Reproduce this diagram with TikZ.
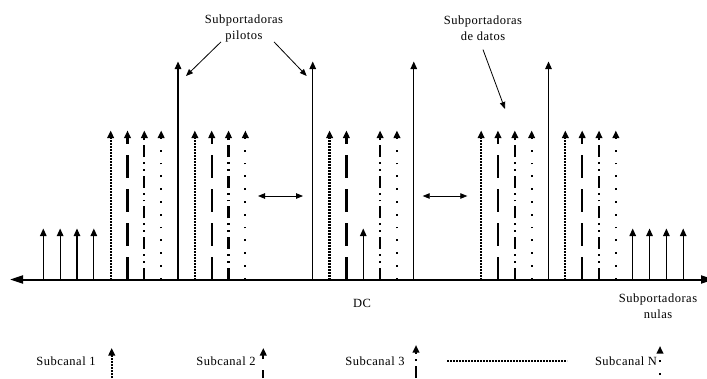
\documentclass[tikz,border=0pt]{standalone}
\usepackage{fontspec}
\setmainfont{Liberation Serif}[LetterSpace=4]
\usetikzlibrary{positioning, arrows.meta}

\begin{document}
\begin{tikzpicture}[
		x=1pt, y=-1pt,
		>={Triangle[length=7.5pt, width=6.5pt]},
		lbl/.style={inner sep=0pt, align=center, font=\fontsize{12.5}{16}\selectfont},
		axis/.style={line width=2pt, {Triangle[length=13pt, width=8pt]}-{Triangle[length=13pt, width=8pt]}},
		pointer/.style={->, line width=0.8pt, >={Triangle[length=7pt, width=5.5pt]}},
		pilot/.style={->, line width=1.2pt},
		nula/.style={->, line width=1.2pt},
		sub1/.style={->, line width=2.2pt, dash pattern=on 1.8pt off 1.2pt},
		sub2/.style={->, line width=2.2pt, dash pattern=on 23pt off 11pt},
		sub3/.style={->, line width=2.2pt, dash pattern=on 12pt off 5pt on 1.8pt off 5pt on 1.8pt off 5pt},
		subn/.style={->, line width=2.2pt, dash pattern=on 1.8pt off 11pt},
	]
	\useasboundingbox (0,0) rectangle (707,378);

	% frequency axis
	\coordinate (axl) at (10,279.5);
	\coordinate (axr) at (714,279.5);
	\draw[axis] (axl) -- (axr);

	% subcarriers
	\foreach \i in {0,1,2,3,19,35,36,37,38}
		\draw[nula] ({43.3+16.84*\i},279.5) -- ++(0,-51);
	\foreach \i in {8,16,22,30}
		\draw[pilot] ({43.3+16.84*\i},279.5) -- ++(0,-218);
	\foreach \i in {4,9,17,26,31}
		\draw[sub1] ({43.3+16.84*\i},279.5) -- ++(0,-149);
	\foreach \i in {5,10,18,27,32}
		\draw[sub2] ({43.3+16.84*\i},279.5) -- ++(0,-149);
	\foreach \i in {6,11,20,28,33}
		\draw[sub3] ({43.3+16.84*\i},279.5) -- ++(0,-149);
	\foreach \i in {7,12,21,29,34}
		\draw[subn] ({43.3+16.84*\i},279.5) -- ++(0,-149);

	% spacing between groups
	\coordinate (g1l) at (258,196);
	\coordinate (g1r) at (303,196);
	\coordinate (g2l) at (422.7,196);
	\coordinate (g2r) at (467.3,196);
	\draw[pointer, <->] (g1l) -- (g1r);
	\draw[pointer, <->] (g2l) -- (g2r);

	% labels
	\node[lbl] (pil) at (244,28) {Subportadoras\\pilotos};
	\node[lbl] (dat) at (483,28) {Subportadoras\\de datos};
	\node[lbl] (dc) at (362,303) {DC};
	\node[lbl] (nul) at (658,306) {Subportadoras\\nulas};

	\coordinate (pil1) at (186,76);
	\coordinate (pil2) at (306.7,76);
	\coordinate (dat1) at (505,109);
	\draw[pointer] ([xshift=-23pt]pil.south) -- (pil1);
	\draw[pointer] ([xshift=30pt]pil.south) -- (pil2);
	\draw[pointer] ([yshift=-9pt]dat.south) -- (dat1);

	% legend
	\node[lbl] (leg1) at (66,361) {Subcanal 1};
	\node[lbl] (leg2) at (226,361) {Subcanal 2};
	\node[lbl] (leg3) at (375,361) {Subcanal 3};
	\node[lbl] (legn) at (626,361) {Subcanal N};
	\draw[sub1] (111.7,378) -- (111.7,348);
	\draw[sub2, dash phase=15pt] (263.3,378) -- (263.3,348);
	\draw[sub3] (416,378) -- (416,345);
	\draw[subn] (660,375) -- (660,346);
	\coordinate (dotl) at (447,361);
	\coordinate (dotr) at (567,361);
	\draw[line width=2pt, dash pattern=on 1.8pt off 1.2pt] (dotl) -- (dotr);
\end{tikzpicture}
\end{document}
